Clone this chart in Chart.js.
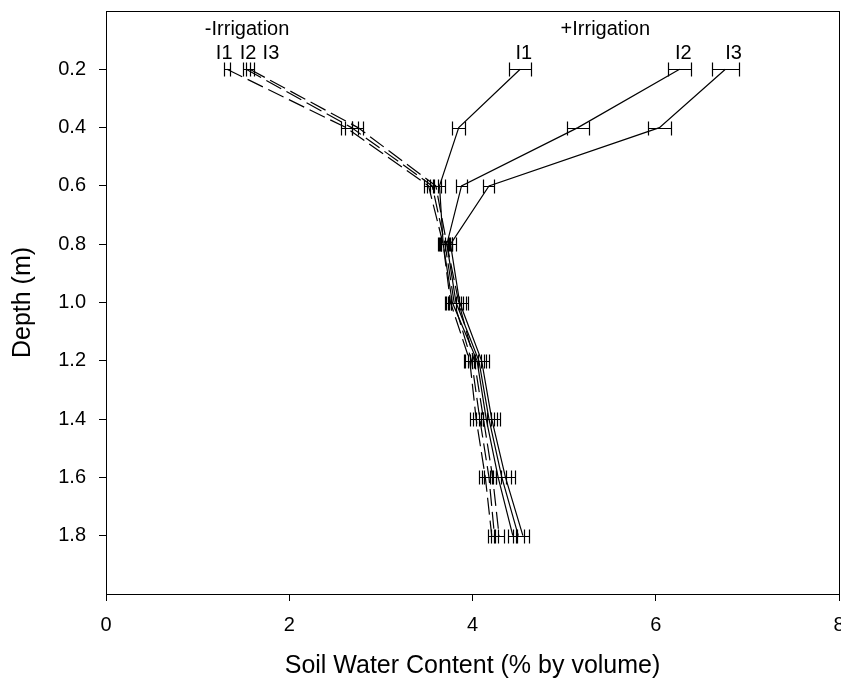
<!DOCTYPE html>
<html>
<head>
<meta charset="utf-8">
<script src="https://cdn.jsdelivr.net/npm/chart.js@4.4.1/dist/chart.umd.min.js"></script>
<style>
  html, body { margin: 0; padding: 0; background: #fff; }
  #wrap { width: 841px; height: 681px; }
</style>
</head>
<body>
<div id="wrap"><canvas id="myChart" width="841" height="681"></canvas></div>
<script>
// depth (m) of each reading
const depths = [0.2, 0.4, 0.6, 0.8, 1.0, 1.2, 1.4, 1.6, 1.8];

// -Irrigation (dashed)
const noIrrI1 = [1.32, 2.62, 3.52, 3.68, 3.76, 3.97, 4.04, 4.14, 4.21];
const noIrrI2 = [1.53, 2.68, 3.56, 3.70, 3.80, 3.99, 4.08, 4.18, 4.24];
const noIrrI3 = [1.57, 2.75, 3.60, 3.72, 3.85, 4.02, 4.12, 4.22, 4.29];
const noIrrErrI1 = [0.03, 0.06, 0.05, 0.05, 0.06, 0.06, 0.07, 0.07, 0.04];
const noIrrErrI2 = [0.04, 0.07, 0.06, 0.05, 0.07, 0.07, 0.08, 0.08, 0.04];
const noIrrErrI3 = [0.04, 0.06, 0.06, 0.06, 0.08, 0.07, 0.08, 0.09, 0.05];

// +Irrigation (solid)
const irrI1 = [4.52, 3.85, 3.64, 3.68, 3.78, 4.05, 4.15, 4.28, 4.44];
const irrI2 = [6.26, 5.15, 3.88, 3.72, 3.82, 4.07, 4.18, 4.32, 4.50];
const irrI3 = [6.76, 6.04, 4.18, 3.76, 3.86, 4.10, 4.21, 4.36, 4.55];
const irrErrI1 = [0.12, 0.07, 0.06, 0.06, 0.07, 0.08, 0.08, 0.09, 0.05];
const irrErrI2 = [0.13, 0.12, 0.06, 0.06, 0.08, 0.08, 0.09, 0.10, 0.06];
const irrErrI3 = [0.15, 0.13, 0.06, 0.06, 0.09, 0.08, 0.09, 0.10, 0.07];

const xTicks = [0, 2, 4, 6, 8];
const yTicks = [0.2, 0.4, 0.6, 0.8, 1.0, 1.2, 1.4, 1.6, 1.8];

// labels in the top of the plot, placed in data units
const notes = [
  { text: '-Irrigation', x: 1.54, y: 0.065 },
  { text: 'I1', x: 1.29, y: 0.145 },
  { text: 'I2', x: 1.55, y: 0.145 },
  { text: 'I3', x: 1.80, y: 0.145 },
  { text: '+Irrigation', x: 5.45, y: 0.065 },
  { text: 'I1', x: 4.56, y: 0.145 },
  { text: 'I2', x: 6.30, y: 0.145 },
  { text: 'I3', x: 6.85, y: 0.145 }
];

const FONT = 'Arial, "Liberation Sans", Helvetica, sans-serif';

function makeSet(label, vals, errs, dashed) {
  return {
    label: label,
    data: vals.map((v, i) => ({ x: v, y: depths[i] })),
    errs: errs,
    showLine: true,
    borderColor: '#000',
    borderWidth: 1.2,
    borderDash: dashed ? [17, 6] : [],
    pointRadius: 0,
    fill: false,
    tension: 0
  };
}

const errorBars = {
  id: 'errorBars',
  afterDatasetsDraw(chart) {
    const ctx = chart.ctx;
    const xs = chart.scales.x, ys = chart.scales.y;
    ctx.save();
    ctx.strokeStyle = '#000';
    ctx.lineWidth = 1.2;
    ctx.setLineDash([]);
    chart.data.datasets.forEach(ds => {
      ds.data.forEach((p, i) => {
        const e = ds.errs[i];
        const x0 = Math.round(xs.getPixelForValue(p.x - e)) + 0.5;
        const x1 = Math.round(xs.getPixelForValue(p.x + e)) + 0.5;
        const y = Math.round(ys.getPixelForValue(p.y)) + 0.5;
        ctx.beginPath();
        ctx.moveTo(x0, y); ctx.lineTo(x1, y);
        ctx.moveTo(x0, y - 7); ctx.lineTo(x0, y + 7);
        ctx.moveTo(x1, y - 7); ctx.lineTo(x1, y + 7);
        ctx.stroke();
      });
    });
    ctx.restore();
  }
};

const frameAndNotes = {
  id: 'frameAndNotes',
  afterDraw(chart) {
    const ctx = chart.ctx;
    const a = chart.chartArea;
    const xs = chart.scales.x, ys = chart.scales.y;
    ctx.save();
    ctx.strokeStyle = '#000';
    ctx.lineWidth = 1;
    ctx.strokeRect(Math.round(a.left) + 0.5, Math.round(a.top) + 0.5,
                   Math.round(a.right - a.left), Math.round(a.bottom - a.top));
    ctx.fillStyle = '#000';
    ctx.font = '20px ' + FONT;
    ctx.textAlign = 'center';
    ctx.textBaseline = 'middle';
    notes.forEach(n => {
      ctx.fillText(n.text, xs.getPixelForValue(n.x), ys.getPixelForValue(n.y));
    });
    ctx.restore();
  }
};

new Chart(document.getElementById('myChart'), {
  type: 'scatter',
  data: {
    datasets: [
      makeSet('-I1', noIrrI1, noIrrErrI1, true),
      makeSet('-I2', noIrrI2, noIrrErrI2, true),
      makeSet('-I3', noIrrI3, noIrrErrI3, true),
      makeSet('+I1', irrI1, irrErrI1, false),
      makeSet('+I2', irrI2, irrErrI2, false),
      makeSet('+I3', irrI3, irrErrI3, false)
    ]
  },
  options: {
    responsive: false,
    animation: false,
    layout: { padding: { left: 0, top: 11, right: 2, bottom: 0 } },
    plugins: { legend: { display: false }, tooltip: { enabled: false } },
    scales: {
      x: {
        type: 'linear',
        min: 0, max: 8,
        afterBuildTicks: s => { s.ticks = xTicks.map(v => ({ value: v })); },
        afterFit: s => { s.height = 87; s.paddingLeft = 0; s.paddingRight = 0; },
        grid: { drawOnChartArea: false, drawTicks: true, tickLength: 7, color: '#000' },
        border: { display: true, color: '#000' },
        ticks: { color: '#000', padding: 12, maxRotation: 0, font: { family: FONT, size: 20 } },
        title: { display: true, text: 'Soil Water Content (% by volume)', color: '#000',
                 padding: { top: 0, bottom: 0 }, font: { family: FONT, size: 25 } }
      },
      y: {
        type: 'linear',
        reverse: true,
        min: 0, max: 2.0,
        afterBuildTicks: s => { s.ticks = yTicks.map(v => ({ value: v })); },
        afterFit: s => { s.width = 106; s.paddingTop = 0; s.paddingBottom = 0; },
        grid: { drawOnChartArea: false, drawTicks: true, tickLength: 7, color: '#000' },
        border: { display: true, color: '#000' },
        ticks: { color: '#000', padding: 13, font: { family: FONT, size: 20 },
                 callback: v => Number(v).toFixed(1) },
        title: { display: true, text: 'Depth (m)', color: '#000',
                 padding: { top: 8, bottom: 0 }, font: { family: FONT, size: 25 } }
      }
    }
  },
  plugins: [errorBars, frameAndNotes]
});
</script>
</body>
</html>
